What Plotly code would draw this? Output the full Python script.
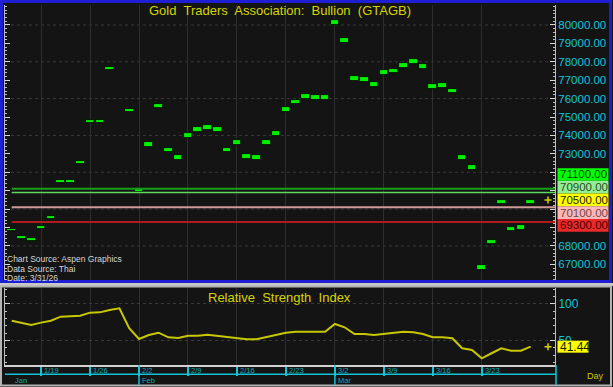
import plotly.graph_objects as go

W, H = 613, 387

# ---------------- data ----------------
dates = [
    "2026-01-14", "2026-01-15", "2026-01-16", "2026-01-19", "2026-01-20", "2026-01-21",
    "2026-01-22", "2026-01-23", "2026-01-26", "2026-01-27", "2026-01-28", "2026-01-29",
    "2026-01-30", "2026-02-02", "2026-02-03", "2026-02-04", "2026-02-05", "2026-02-06",
    "2026-02-09", "2026-02-10", "2026-02-11", "2026-02-12", "2026-02-13", "2026-02-16",
    "2026-02-17", "2026-02-18", "2026-02-19", "2026-02-20", "2026-02-23", "2026-02-24",
    "2026-02-25", "2026-02-26", "2026-02-27", "2026-03-02", "2026-03-03", "2026-03-04",
    "2026-03-05", "2026-03-06", "2026-03-09", "2026-03-10", "2026-03-11", "2026-03-12",
    "2026-03-13", "2026-03-16", "2026-03-17", "2026-03-18", "2026-03-19", "2026-03-20",
    "2026-03-23", "2026-03-24", "2026-03-25", "2026-03-26", "2026-03-27", "2026-03-30",
]

highs = [
    68940, 68540, 68430, 69090, 69630, 71580, 71580, 72620, 74840, 74840, 77720, None,
    75440, 71170, 73650, 75730, 73340, 72940, 74140, 74440, 74550, 74440, 73340, 73730,
    72990, 72940, 73730, 74240, 75520, 75940, 76230, 76180, 76180, 80270, 79270, 77230,
    77180, 76880, 77540, 77630, 77940, 78130, 77880, 76780, 76830, 76540, 72940, 72370,
    66940, 68340, 70520, 69040, 69130, 70520,
]
lows = [
    68790, 68390, 68280, 68930, 69480, 71430, 71430, 72470, 74690, 74690, 77570, None,
    75290, 70910, 73390, 75470, 73080, 72680, 73880, 74180, 74290, 74180, 73080, 73480,
    72740, 72680, 73480, 73990, 75270, 75690, 75980, 75920, 75920, 80020, 79020, 76980,
    76920, 76630, 77280, 77370, 77680, 77880, 77630, 76520, 76580, 76290, 72680, 72120,
    66690, 68090, 70280, 68790, 68880, 70280,
]

rsi = [
    77.1, 74.0, 71.2, 74.4, 77.1, 82.6, 83.3, 84.0, 88.1, 88.5, 91.8, 94.1,
    66.7, 52.0, 57.5, 60.6, 54.3, 53.4, 56.5, 56.5, 57.9, 56.5, 54.3, 53.9,
    51.6, 51.6, 54.3, 57.5, 60.6, 62.0, 62.0, 62.0, 62.0, 72.6, 68.0, 58.8,
    58.8, 57.5, 58.8, 59.8, 62.0, 61.2, 58.8, 54.3, 54.3, 52.9, 39.2, 36.9,
    25.5, 32.4, 39.2, 35.9, 35.9, 41.44,
]

price_ticks = [67000, 68000, 69000, 70000, 71000, 72000, 73000,
               74000, 75000, 76000, 77000, 78000, 79000, 80000]
rsi_ticks = [50, 100]

week_starts = ["2026-01-19", "2026-01-26", "2026-02-02", "2026-02-09", "2026-02-16",
               "2026-02-23", "2026-03-02", "2026-03-09", "2026-03-16", "2026-03-23"]
week_labels = ["1/19", "1/26", "2/2", "2/9", "2/16", "2/23", "3/2", "3/9", "3/16", "3/23"]
month_starts = ["2026-01-14", "2026-02-02", "2026-03-02"]
month_labels = ["Jan", "Feb", "Mar"]

level_values = [71100, 70900, 70100, 69300]
last_price = 70500
last_rsi_label = "41.44"

title_main = "Gold  Traders  Association:  Bullion  (GTAGB)"
title_rsi = "Relative  Strength  Index"
notes = ["Chart Source: Aspen Graphics", "Data Source: Thai", "Date: 3/31/26"]

# ---------------- layout constants ----------------
FN = "Liberation Sans, Arial, sans-serif"
BG = "#141414"
CYAN = "#12c4d4"
YEL = "#d4d400"
X_L, X_R = 5, 555
MAIN_T, MAIN_B = 5, 281
RSI_T, RSI_B = 288, 365
XMIN, XMAX = -0.684, 55.48
YMIN, YMAX = 66095, 81086
RMIN, RMAX = 16.3, 121.9


def fx(px):
    return px / W


def fy(px):
    return 1 - px / H


def price_px(v):
    return MAIN_T + (YMAX - v) / (YMAX - YMIN) * (MAIN_B - MAIN_T)


def rsi_px(v):
    return RSI_T + (RMAX - v) / (RMAX - RMIN) * (RSI_B - RSI_T)


def px_to_k(px):
    return XMIN + (px - X_L) / (X_R - X_L) * (XMAX - XMIN)


idx = list(range(len(dates)))
week_idx = [dates.index(d) for d in week_starts]
month_idx = [dates.index(d) for d in month_starts]

fig = go.Figure()

# price bars (high-low boxes)
fig.add_trace(go.Bar(
    x=idx,
    y=[(h - l) if h is not None else None for h, l in zip(highs, lows)],
    base=lows,
    width=0.88,
    marker=dict(color="#00ee00", line=dict(color="#000000", width=0.8)),
    xaxis="x", yaxis="y", hoverinfo="skip",
))

# RSI line
fig.add_trace(go.Scatter(
    x=idx, y=rsi, mode="lines",
    line=dict(color="#c8c800", width=2),
    xaxis="x2", yaxis="y2", hoverinfo="skip",
))

# last value markers (+)
fig.add_trace(go.Scatter(
    x=[px_to_k(548)], y=[last_price], mode="markers",
    marker=dict(symbol="cross-thin", size=5, line=dict(color=YEL, width=1.5)),
    xaxis="x", yaxis="y", hoverinfo="skip",
))
fig.add_trace(go.Scatter(
    x=[px_to_k(548)], y=[rsi[-1]], mode="markers",
    marker=dict(symbol="cross-thin", size=5, line=dict(color=YEL, width=1.5)),
    xaxis="x2", yaxis="y2", hoverinfo="skip",
))

shapes = []
annotations = []

# horizontal dotted grid (main) every other price tick
for g in price_ticks[1::2]:
    shapes.append(dict(type="line", xref="x", yref="y", x0=XMIN, x1=XMAX, y0=g, y1=g,
                       line=dict(color="#3a3a3a", width=1, dash="dot"), layer="below"))

# level lines
level_styles = {
    71100: ("#16a016", 2),
    70900: ("#5cd85c", 1.5),
    70100: ("#d09a9a", 2),
    69300: ("#b01a1a", 2),
}
for v in level_values:
    c, w = level_styles[v]
    shapes.append(dict(type="line", xref="x", yref="y", x0=idx[0], x1=XMAX, y0=v, y1=v,
                       line=dict(color=c, width=w)))

# right-side value boxes (stacked around the last price)
box_items = [
    (71100, "#00ff00", "#0c400c"),
    (70900, "#92ee92", "#2c4c2c"),
    (last_price, "#ffff00", "#262600"),
    (70100, "#ffb6b6", "#6a4a4a"),
    (69300, "#e82a2a", "#4a0000"),
]
anchor = price_px(last_price)
BOX_H = 12.7
stack_top = anchor - 2.5 * BOX_H
stack_bot = anchor + 2.5 * BOX_H
for i, (v, bg, tc) in enumerate(box_items):
    cy = anchor + (i - 2) * BOX_H
    shapes.append(dict(type="rect", xref="paper", yref="paper",
                       x0=fx(557.5), x1=fx(608.5), y0=fy(cy + BOX_H / 2), y1=fy(cy - BOX_H / 2),
                       fillcolor=bg, line=dict(width=0), layer="above"))
    annotations.append(dict(text=f"{v:.2f}", xref="paper", yref="paper",
                            x=fx(558), y=fy(cy), xanchor="left", yanchor="middle",
                            showarrow=False, font=dict(family=FN, size=11.5, color=tc)))

# tick labels hidden where the value boxes cover them
price_ticktext = ["" if stack_top - 3 <= price_px(t) <= stack_bot + 3 else f"{t:.2f}"
                  for t in price_ticks]

# RSI value box
ry = rsi_px(rsi[-1])
shapes.append(dict(type="rect", xref="paper", yref="paper",
                   x0=fx(557.5), x1=fx(588.5), y0=fy(ry + 6), y1=fy(ry - 6),
                   fillcolor="#ffff00", line=dict(width=0), layer="above"))
annotations.append(dict(text=last_rsi_label, xref="paper", yref="paper",
                        x=fx(558), y=fy(ry), xanchor="left", yanchor="middle",
                        showarrow=False, font=dict(family=FN, size=12, color="#1a1a00")))

# frames
shapes.append(dict(type="rect", xref="paper", yref="paper",
                   x0=fx(1.5), x1=fx(610.5), y0=fy(281.5), y1=fy(1.5),
                   line=dict(color="#1e1ed2", width=3), layer="above"))
shapes.append(dict(type="rect", xref="paper", yref="paper",
                   x0=fx(0), x1=fx(W), y0=fy(286), y1=fy(283),
                   fillcolor="#c8c8c8", line=dict(width=0), layer="above"))
shapes.append(dict(type="rect", xref="paper", yref="paper",
                   x0=fx(1), x1=fx(611), y0=fy(385.5), y1=fy(286.5),
                   line=dict(color="#b4b4b4", width=2), layer="above"))

# date axis decorations
shapes.append(dict(type="line", xref="paper", yref="paper",
                   x0=fx(5), x1=fx(556), y0=fy(374.3), y1=fy(374.3),
                   line=dict(color=CYAN, width=1.5)))
shapes.append(dict(type="line", xref="paper", yref="paper",
                   x0=fx(556), x1=fx(556), y0=fy(365), y1=fy(385),
                   line=dict(color=CYAN, width=1.5)))
for mi in month_idx[1:]:
    shapes.append(dict(type="line", xref="x2", yref="paper",
                       x0=mi, x1=mi, y0=fy(365), y1=fy(385),
                       line=dict(color=CYAN, width=1.5)))

for wi, lab in zip(week_idx, week_labels):
    annotations.append(dict(text=lab, xref="x2", yref="paper", x=wi, y=fy(370.3),
                            xanchor="left", yanchor="middle", xshift=1, showarrow=False,
                            font=dict(family=FN, size=7.5, color="#10a8b8")))
for mi, lab in zip(month_idx, month_labels):
    annotations.append(dict(text=lab, xref="x2", yref="paper", x=mi, y=fy(380),
                            xanchor="left", yanchor="middle", xshift=1, showarrow=False,
                            font=dict(family=FN, size=7.5, color="#10a8b8")))

annotations.append(dict(text="Day", xref="paper", yref="paper", x=fx(595), y=fy(375.5),
                        xanchor="center", yanchor="middle", showarrow=False,
                        font=dict(family=FN, size=9, color="#c8c800")))

# titles
annotations.append(dict(text=title_main, xref="paper", yref="paper", x=fx(280), y=fy(10.5),
                        xanchor="center", yanchor="middle", showarrow=False,
                        font=dict(family=FN, size=13, color=YEL)))
annotations.append(dict(text=title_rsi, xref="paper", yref="paper", x=fx(279), y=fy(297.5),
                        xanchor="center", yanchor="middle", showarrow=False,
                        font=dict(family=FN, size=13, color=YEL)))

# source notes
for t, yy in zip(notes, [259, 268.5, 278.3]):
    annotations.append(dict(text=t, xref="paper", yref="paper", x=fx(5), y=fy(yy),
                            xanchor="left", yanchor="middle", showarrow=False,
                            font=dict(family=FN, size=8.5, color="#d4d4d4")))

axis_common = dict(range=[XMIN, XMAX], tickvals=week_idx, showticklabels=False,
                   showgrid=True, gridcolor="#2e2e2e", gridwidth=1, zeroline=False)

fig.update_layout(
    width=W, height=H,
    margin=dict(l=0, r=0, t=0, b=0),
    paper_bgcolor=BG, plot_bgcolor=BG,
    showlegend=False,
    bargap=0,
    xaxis=dict(domain=[fx(X_L), fx(X_R)], anchor="y", ticks="", **axis_common),
    yaxis=dict(domain=[fy(MAIN_B), fy(MAIN_T)], range=[YMIN, YMAX], side="right",
               anchor="x", tickvals=price_ticks, ticktext=price_ticktext,
               tickfont=dict(family=FN, size=11.5, color=CYAN),
               showgrid=False, zeroline=False,
               showline=True, linecolor="#bdbdbd", linewidth=1, mirror="ticks",
               ticks="inside", ticklen=5, tickcolor="#d8d8d8",
               minor=dict(dtick=200, ticks="inside", ticklen=2, tickcolor="#bdbdbd")),
    xaxis2=dict(domain=[fx(X_L), fx(X_R)], anchor="y2", ticks="outside", ticklen=9,
                tickcolor=CYAN, tickwidth=1.5, showline=True, linecolor="#d0d0d0",
                linewidth=1.5, **axis_common),
    yaxis2=dict(domain=[fy(RSI_B), fy(RSI_T)], range=[RMIN, RMAX], side="right",
                anchor="x2", tickvals=rsi_ticks, ticktext=[str(t) for t in rsi_ticks],
                tickfont=dict(family=FN, size=12, color=CYAN),
                showgrid=True, gridcolor="#3a3a3a", griddash="dot", zeroline=False,
                showline=True, linecolor="#bdbdbd", linewidth=1, mirror="ticks",
                ticks="inside", ticklen=5, tickcolor="#d8d8d8",
                minor=dict(dtick=10, ticks="inside", ticklen=2, tickcolor="#bdbdbd")),
    shapes=shapes,
    annotations=annotations,
)

fig.write_html("out.html", config={"displayModeBar": False},
               post_script="document.body.style.margin='0';document.body.style.overflow='hidden';")
